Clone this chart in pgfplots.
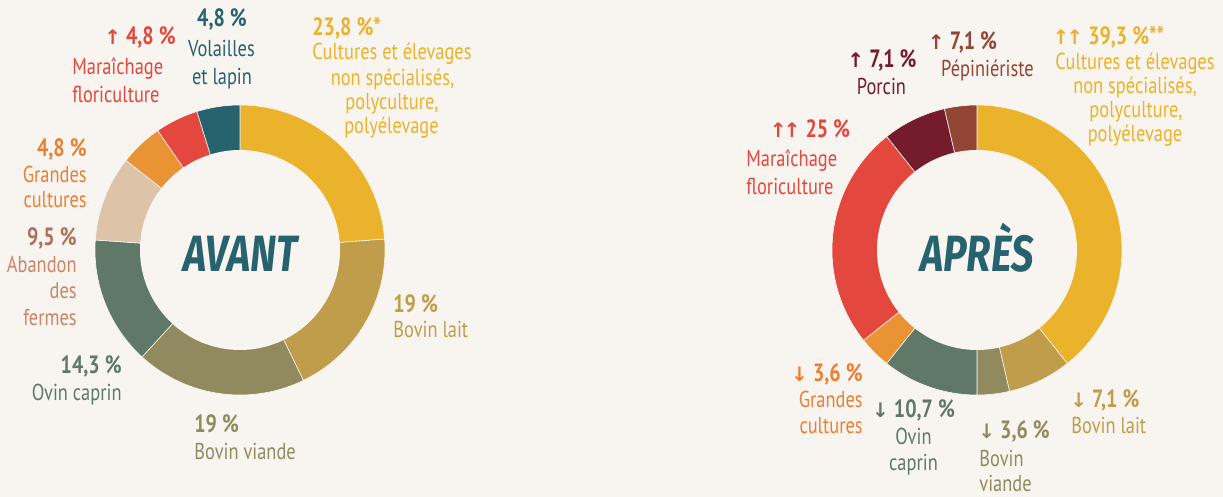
\documentclass[border=0pt]{standalone}
\usepackage{pgfplots}
\pgfplotsset{compat=1.18}
\usepackage{fontspec}
\setmainfont{PT Sans}[FakeStretch=0.8]
\newfontfamily\titlefont{Fira Sans}[FakeStretch=0.78]
\newfontfamily\arr{DejaVu Sans}
\definecolor{bg}{HTML}{F8F5F0}
\definecolor{cyel}{HTML}{EBB22B}
\definecolor{clait}{HTML}{C09D4B}
\definecolor{cviande}{HTML}{928A5F}
\definecolor{covin}{HTML}{5F7868}
\definecolor{caband}{HTML}{DDC3A8}
\definecolor{cabandt}{HTML}{CC8468}
\definecolor{cgc}{HTML}{E99335}
\definecolor{cgct}{HTML}{EE7E33}
\definecolor{cmar}{HTML}{E4473D}
\definecolor{cvol}{HTML}{27626F}
\definecolor{cporc}{HTML}{741B2C}
\definecolor{cpepi}{HTML}{924535}
\tikzset{
  lab/.style={font=\fontsize{11.5}{13}\selectfont, inner sep=0pt},
  pct/.style={font=\fontsize{12.5}{14}\selectfont\bfseries, inner sep=0pt}}
% segment: cx, cy, start %, end %, colour
\newcommand\seg[5]{%
  \addplot[fill=#5, draw=bg, line width=0.3pt, domain=#3:#4, samples=80, variable=\t]
    ({#1+145*sin(3.6*\t)},{#2-145*cos(3.6*\t)}) -- (axis cs:#1,#2) -- cycle;}
\newcommand\hole[2]{%
  \addplot[fill=bg, draw=none, domain=0:360, samples=180, variable=\t]
    ({#1+100*sin(\t)},{#2-100*cos(\t)}) -- cycle;}
\newcommand\up{{\arr\fontsize{10}{12}\selectfont ↑}}
\newcommand\upup{{\arr\fontsize{10}{12}\selectfont ↑\kern-1.5pt↑}}
\newcommand\dn{{\arr\fontsize{10}{12}\selectfont ↓}}
\begin{document}
\begin{tikzpicture}
\fill[bg] (0,0) rectangle (611.5pt,248.5pt);
\begin{axis}[width=611.5pt, height=248.5pt, scale only axis,
  xmin=0, xmax=1223, ymin=0, ymax=497, y dir=reverse, hide axis, clip=false]
% AVANT: 23.8, 19, 19, 14.3, 9.5, 4.8, 4.8, 4.8
\seg{240}{250}{0}{23.8}{cyel}
\seg{240}{250}{23.8}{42.8}{clait}
\seg{240}{250}{42.8}{61.8}{cviande}
\seg{240}{250}{61.8}{76.1}{covin}
\seg{240}{250}{76.1}{85.6}{caband}
\seg{240}{250}{85.6}{90.4}{cgc}
\seg{240}{250}{90.4}{95.2}{cmar}
\seg{240}{250}{95.2}{100}{cvol}
\hole{240}{250}
% APRES: 39.3, 7.1, 3.6, 10.7, 3.6, 25, 7.1, 3.6
\seg{977}{250}{0}{39.3}{cyel}
\seg{977}{250}{39.3}{46.4}{clait}
\seg{977}{250}{46.4}{50}{cviande}
\seg{977}{250}{50}{60.7}{covin}
\seg{977}{250}{60.7}{64.3}{cgc}
\seg{977}{250}{64.3}{89.3}{cmar}
\seg{977}{250}{89.3}{96.4}{cporc}
\seg{977}{250}{96.4}{100}{cpepi}
\hole{977}{250}
% centre titles
\node[anchor=base, inner sep=0pt, text=cvol, font=\titlefont\fontsize{25.5}{28}\selectfont\bfseries\itshape] at (axis cs:240.5,272) {AVANT};
\node[anchor=base, inner sep=0pt, text=cvol, font=\titlefont\fontsize{25.5}{28}\selectfont\bfseries\itshape] at (axis cs:977,272) {APRÈS};
% left labels
\node[pct, anchor=base, text=cvol] at (axis cs:222,27) {4,8 \%};
\node[lab, anchor=base, text=cvol] at (axis cs:221.5,57) {Volailles};
\node[lab, anchor=base, text=cvol] at (axis cs:222,85) {et lapin};
\node[pct, anchor=base, text=cmar] at (axis cs:140,45) {\up\ 4,8 \%};
\node[lab, anchor=base west, text=cmar] at (axis cs:72,75) {Maraîchage};
\node[lab, anchor=base west, text=cmar] at (axis cs:72,103) {floriculture};
\node[pct, anchor=base west, text=cyel] at (axis cs:312,36) {23,8 \%*};
\node[lab, anchor=base, text=cyel] at (axis cs:392,60) {Cultures et élevages};
\node[lab, anchor=base, text=cyel] at (axis cs:392.5,86) {non spécialisés,};
\node[lab, anchor=base, text=cyel] at (axis cs:392,110) {polyculture,};
\node[lab, anchor=base, text=cyel] at (axis cs:391.5,134) {polyélevage};
\node[pct, anchor=base east, text=cgct] at (axis cs:87,157) {4,8 \%};
\node[lab, anchor=base east, text=cgct] at (axis cs:87,183) {Grandes};
\node[lab, anchor=base east, text=cgct] at (axis cs:87,208) {cultures};
\node[pct, anchor=base east, text=cabandt!85!black] at (axis cs:77,246) {9,5 \%};
\node[lab, anchor=base east, text=cabandt] at (axis cs:77,273) {Abandon};
\node[lab, anchor=base east, text=cabandt] at (axis cs:77,299) {des};
\node[lab, anchor=base east, text=cabandt] at (axis cs:77,326) {fermes};
\node[pct, anchor=base east, text=covin] at (axis cs:122,374) {14,3 \%};
\node[lab, anchor=base east, text=covin] at (axis cs:122,401) {Ovin caprin};
\node[pct, anchor=base west, text=cviande] at (axis cs:194,433) {19 \%};
\node[lab, anchor=base west, text=cviande] at (axis cs:194,460) {Bovin viande};
\node[pct, anchor=base west, text=clait] at (axis cs:393,313) {19 \%};
\node[lab, anchor=base west, text=clait] at (axis cs:393,338) {Bovin lait};
% right labels
\node[pct, anchor=base, text=cyel] at (axis cs:1108.5,45) {\upup\ 39,3 \%**};
\node[lab, anchor=base, text=cyel] at (axis cs:1135,70) {Cultures et élevages};
\node[lab, anchor=base, text=cyel] at (axis cs:1135,94) {non spécialisés,};
\node[lab, anchor=base, text=cyel] at (axis cs:1136,118) {polyculture,};
\node[lab, anchor=base, text=cyel] at (axis cs:1135,142) {polyélevage};
\node[pct, anchor=base, text=cpepi] at (axis cs:962.5,50) {\up\ 7,1 \%};
\node[lab, anchor=base, text=cpepi] at (axis cs:987.5,77) {Pépiniériste};
\node[pct, anchor=base, text=cporc] at (axis cs:882,68) {\up\ 7,1 \%};
\node[lab, anchor=base, text=cporc] at (axis cs:881.5,95) {Porcin};
\node[pct, anchor=base, text=cmar] at (axis cs:810,138) {\upup\ 25 \%};
\node[lab, anchor=base west, text=cmar] at (axis cs:746,167) {Maraîchage};
\node[lab, anchor=base west, text=cmar] at (axis cs:746,195) {floriculture};
\node[pct, anchor=base east, text=cgct] at (axis cs:863,382) {\dn\ 3,6 \%};
\node[lab, anchor=base east, text=cgct] at (axis cs:863,408) {Grandes};
\node[lab, anchor=base east, text=cgct] at (axis cs:863,434) {cultures};
\node[pct, anchor=base, text=covin] at (axis cs:913.5,418) {\dn\ 10,7 \%};
\node[lab, anchor=base, text=covin] at (axis cs:913.5,445) {Ovin};
\node[lab, anchor=base, text=covin] at (axis cs:913.5,471) {caprin};
\node[pct, anchor=base west, text=cviande] at (axis cs:978,439) {\dn\ 3,6 \%};
\node[lab, anchor=base west, text=cviande] at (axis cs:979,467) {Bovin};
\node[lab, anchor=base west, text=cviande] at (axis cs:979,492) {viande};
\node[pct, anchor=base west, text=clait] at (axis cs:1070,408) {\dn\ 7,1 \%};
\node[lab, anchor=base west, text=clait] at (axis cs:1071,434) {Bovin lait};
\end{axis}
\end{tikzpicture}
\end{document}
